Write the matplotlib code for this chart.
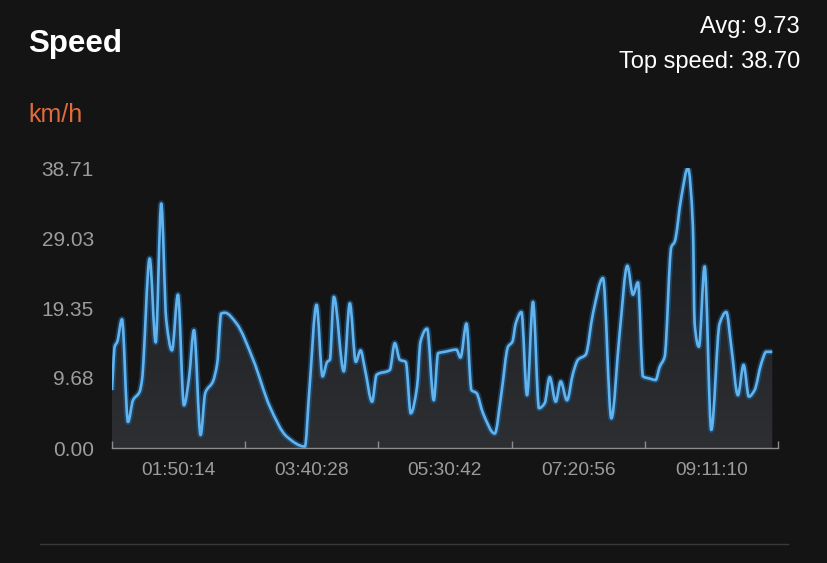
"""Speed over an activity: smoothed line with a dark gradient fill, phone-app styling."""
import numpy as np
import matplotlib
matplotlib.use("Agg")
import matplotlib.pyplot as plt
from matplotlib.path import Path
from matplotlib.patches import PathPatch
from matplotlib.lines import Line2D
from matplotlib.colors import LinearSegmentedColormap

# elapsed time (s) and speed (km/h)
elapsed_s = [3307, 3441, 3570, 3803, 4101, 4349, 4681, 4796, 5178, 5475, 5753, 6001,
             6284, 6582, 6880, 7128, 7376, 7708, 7937, 8319, 8532, 8730, 8914, 9494,
             10318, 11147, 11975, 12884, 13097, 13464, 13762, 13990, 14124, 14323, 14819,
             15117, 15414, 15648, 15861, 16223, 16442, 17102, 17350, 17598, 17895, 18143,
             18456, 18625, 18952, 19285, 19498, 19830, 20411, 20609, 20907, 21155, 21403,
             21731, 22311, 22644, 22971, 23190, 23354, 23637, 23915, 24212, 24510, 24793,
             25041, 25339, 25587, 25900, 26197, 26446, 26828, 27190, 27686, 28103, 28515,
             28897, 29175, 29423, 29671, 30004, 30301, 30500, 30748, 31080, 31244, 31577,
             31904, 32152, 32237, 32450, 32733, 33065, 33477, 33810, 34058, 34386, 34669,
             34932, 35214, 35547, 35795, 36093]
speed_kmh = [8.0, 14.0, 14.7, 17.8, 3.6, 6.6, 7.8, 9.4, 26.2, 14.6, 33.8, 17.7,
             13.5, 21.2, 5.9, 9.6, 16.3, 1.8, 7.6, 9.2, 11.7, 18.6, 18.7, 17.2,
             12.2, 5.7, 1.6, 0.2, 7.6, 19.8, 9.9, 11.9, 12.2, 20.9, 10.6,
             20.0, 11.9, 13.5, 11.0, 6.4, 10.1, 10.8, 14.5, 12.2, 11.9, 4.8,
             8.5, 14.7, 16.5, 6.6, 13.1, 13.3, 13.6, 12.5, 17.2, 8.0, 7.6,
             4.8, 2.0, 7.6, 14.0, 14.7, 17.2, 18.8, 7.3, 20.2, 5.5, 6.2,
             9.8, 6.4, 9.2, 6.6, 10.3, 12.2, 12.9, 18.6, 23.5, 4.1, 15.9,
             25.2, 21.2, 22.9, 9.9, 9.6, 9.4, 11.2, 12.6, 27.8, 28.5, 34.7,
             38.7, 30.6, 17.2, 14.0, 25.1, 2.5, 17.2, 18.8, 14.0, 7.3, 11.5,
             7.1, 8.0, 11.7, 13.3, 13.3]

y_ticks = [0.00, 9.68, 19.35, 29.03, 38.71]
x_label_ticks = [6614, 13228, 19842, 26456, 33070]
x_labels = ["01:50:14", "03:40:28", "05:30:42", "07:20:56", "09:11:10"]
x_bounds = [3307, 9921, 16535, 23149, 29763, 36377]

BG = "#141414"
LINE = "#62b4ef"
plt.rcParams["font.family"] = ["Liberation Sans", "DejaVu Sans"]


def smooth_path(x, y):
    """Monotone cubic (Fritsch-Carlson) as Bezier segments, like app charts draw."""
    x = np.asarray(x, float)
    y = np.asarray(y, float)
    dx = np.diff(x)
    m = np.diff(y) / dx
    t = np.zeros_like(y)
    t[0], t[-1] = m[0], m[-1]
    for i in range(1, len(x) - 1):
        if m[i - 1] * m[i] > 0:
            t[i] = 3 * (dx[i - 1] + dx[i]) / ((2 * dx[i] + dx[i - 1]) / m[i - 1] +
                                               (dx[i] + 2 * dx[i - 1]) / m[i])
    verts = [(x[0], y[0])]
    codes = [Path.MOVETO]
    for i in range(len(x) - 1):
        h = dx[i] / 3
        verts += [(x[i] + h, y[i] + t[i] * h), (x[i + 1] - h, y[i + 1] - t[i + 1] * h),
                  (x[i + 1], y[i + 1])]
        codes += [Path.CURVE4] * 3
    return verts, codes


fig = plt.figure(figsize=(8.28, 5.63), dpi=100, facecolor=BG)
ax = fig.add_axes([112 / 828, 115 / 563, 666 / 828, 280 / 563])
ax.set_facecolor(BG)

verts, codes = smooth_path(elapsed_s, speed_kmh)

# area under curve, filled with a vertical gradient
area = Path(verts + [(elapsed_s[-1], 0), (elapsed_s[0], 0), (elapsed_s[0], speed_kmh[0])],
            codes + [Path.LINETO, Path.LINETO, Path.CLOSEPOLY])
area_patch = PathPatch(area, facecolor="none", edgecolor="none")
ax.add_patch(area_patch)
grad = LinearSegmentedColormap.from_list("g", ["#2d2f32", "#18191b"])
ax.imshow(np.linspace(0, 1, 256).reshape(-1, 1), cmap=grad, aspect="auto",
          extent=[x_bounds[0], x_bounds[-1], 0, 38.71], origin="lower",
          clip_path=area_patch, zorder=1)

line = Path(verts, codes)
ax.add_patch(PathPatch(line, facecolor="none", edgecolor="#1e5f96", lw=4.5, alpha=0.55,
                       joinstyle="round", zorder=2))
ax.add_patch(PathPatch(line, facecolor="none", edgecolor=LINE, lw=1.9,
                       joinstyle="round", zorder=3))

ax.set_xlim(x_bounds[0], x_bounds[-1])
ax.set_ylim(0, 38.71)

for s in ["top", "right", "left"]:
    ax.spines[s].set_visible(False)
ax.spines["bottom"].set_color("#8c8c8c")
ax.spines["bottom"].set_linewidth(1.0)

ax.set_yticks(y_ticks)
ax.set_yticklabels([f"{v:.2f}" for v in y_ticks])
ax.tick_params(axis="y", length=0, pad=13, labelsize=15, labelcolor="#9c9c9c")

ax.set_xticks(x_label_ticks)
ax.set_xticklabels(x_labels)
ax.set_xticks(x_bounds, minor=True)
ax.tick_params(axis="x", which="major", length=0, pad=10, labelsize=13.8, labelcolor="#9c9c9c")
ax.tick_params(axis="x", which="minor", direction="in", length=5, width=1, color="#8c8c8c")

fig.text(28 / 828, 1 - 44 / 563, "Speed", color="white", fontsize=22.5, fontweight="bold",
         ha="left", va="center")
fig.text(800 / 828, 1 - 27 / 563, "Avg: 9.73", color="white", fontsize=17,
         ha="right", va="center")
fig.text(800 / 828, 1 - 62 / 563, "Top speed: 38.70", color="white", fontsize=17,
         ha="right", va="center")
fig.text(28 / 828, 1 - 115 / 563, "km/h", color="#e06b3c", fontsize=18,
         ha="left", va="center")

fig.add_artist(Line2D([40 / 828, 788 / 828], [1 - 544 / 563] * 2, color="#3a3a3a", lw=1))

fig.savefig("out.png", dpi=100, facecolor=BG)
